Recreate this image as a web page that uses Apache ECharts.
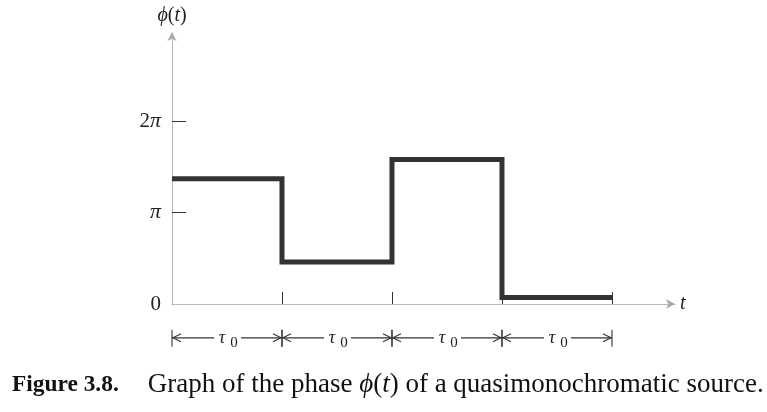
<!DOCTYPE html>
<html>
<head>
<meta charset="utf-8">
<script src="https://cdn.jsdelivr.net/npm/echarts@6/dist/echarts.min.js"></script>
<style>html,body{margin:0;padding:0;background:#fff}#c{width:767px;height:412px}</style>
</head>
<body>
<div id="c"></div>
<script>
// Phase level held during each interval, in units of pi
const phaseLevels = [1.37, 0.46, 1.58, 0.07];
// Interval boundaries, in units of tau_0
const intervalBounds = [0, 1, 2, 3, 4];
// Y tick values (units of pi) and their labels
const yTickValues = [0, 1, 2];
const yTickLabels = ['0', '{p|π}', '2{p|π}'];
// Interval annotation label (tau with subscript 0)
const intervalSymbol = 'τ';
const intervalSub = '0';

const SERIF = '"Liberation Serif", "DejaVu Serif", serif';
const stepData = intervalBounds.map((t, i) => [t, phaseLevels[Math.min(i, phaseLevels.length - 1)]]);
const segData = intervalBounds.slice(0, -1).map((t, i) => [t, intervalBounds[i + 1]]);
const DIM_Y = -0.37;
const yLabelFor = v => yTickLabels[yTickValues.indexOf(Math.round(v))] || '';

const chart = echarts.init(document.getElementById('c'), null, {renderer: 'canvas'});
chart.setOption({
  animation: false,
  backgroundColor: '#fff',
  title: {
    left: 12, top: 371, padding: 0,
    text: '{b|Figure 3.8.}{sp|}{g|Graph of the phase }{i|ϕ}{g|(}{i|t}{g|) of a quasimonochromatic source.}',
    textStyle: {
      fontWeight: 'normal',
      rich: {
        b: {fontFamily: SERIF, fontWeight: 'bold', fontSize: 23.4, color: '#111'},
        sp: {width: 29},
        g: {fontFamily: SERIF, fontWeight: 'normal', fontSize: 27, color: '#111'},
        i: {fontFamily: SERIF, fontWeight: 'normal', fontStyle: 'italic', fontSize: 27, color: '#111'}
      }
    }
  },
  grid: {left: 172, top: 32, right: 92, bottom: 108},
  xAxis: {
    type: 'value', min: 0, max: 4.573, interval: 1,
    name: 't', nameLocation: 'end', nameGap: 5,
    nameTextStyle: {fontFamily: SERIF, fontStyle: 'italic', fontSize: 20, color: '#222', padding: [12, 0, 0, 0]},
    axisLine: {show: true, symbol: ['none', 'arrow'], symbolSize: [7, 9], symbolOffset: [0, 0],
      lineStyle: {color: '#aaa', width: 1, type: 'dotted'}},
    axisTick: {show: true, inside: true, length: 12, customValues: [1, 2, 3, 4],
      lineStyle: {color: '#333', width: 1}},
    axisLabel: {show: false},
    splitLine: {show: false}
  },
  yAxis: {
    type: 'value', min: 0, max: 2.973, interval: 1,
    name: '{i|ϕ}{n|(}{i|t}{n|)}', nameLocation: 'end', nameGap: 6,
    nameTextStyle: {
      rich: {
        i: {fontFamily: SERIF, fontStyle: 'italic', fontSize: 20, color: '#222'},
        n: {fontFamily: SERIF, fontSize: 20, color: '#222'}
      }
    },
    axisLine: {show: true, symbol: ['none', 'arrow'], symbolSize: [7, 9],
      lineStyle: {color: '#aaa', width: 1, type: 'dotted'}},
    axisTick: {show: true, inside: true, length: 14, customValues: [1, 2],
      lineStyle: {color: '#333', width: 1}},
    axisLabel: {
      show: true, customValues: yTickValues, margin: 11,
      fontFamily: SERIF, fontSize: 21, color: '#222',
      formatter: yLabelFor,
      rich: {p: {fontFamily: SERIF, fontStyle: 'italic', fontSize: 22, color: '#222'}}
    },
    splitLine: {show: false}
  },
  series: [
    {
      type: 'line', data: stepData, step: 'end', symbol: 'none',
      lineStyle: {color: '#333', width: 5, cap: 'butt', join: 'miter'},
      z: 5
    },
    {
      type: 'custom', data: segData, clip: false, silent: true,
      renderItem: function (params, api) {
        const a = api.coord([api.value(0), DIM_Y]);
        const b = api.coord([api.value(1), DIM_Y]);
        const y = a[1];
        const cx = (a[0] + b[0]) / 2;
        const st = {stroke: '#333', lineWidth: 1.1, fill: null};
        return {
          type: 'group',
          children: [
            {type: 'line', shape: {x1: a[0], y1: y, x2: cx - 13, y2: y}, style: st},
            {type: 'line', shape: {x1: cx + 14, y1: y, x2: b[0], y2: y}, style: st},
            {type: 'polyline', shape: {points: [[a[0] + 9, y - 4], [a[0] + 1, y], [a[0] + 9, y + 4]]}, style: st},
            {type: 'polyline', shape: {points: [[b[0] - 9, y - 4], [b[0] - 1, y], [b[0] - 9, y + 4]]}, style: st},
            {type: 'line', shape: {x1: a[0], y1: y - 8, x2: a[0], y2: y + 9}, style: st},
            {type: 'line', shape: {x1: b[0], y1: y - 8, x2: b[0], y2: y + 9}, style: st},
            {type: 'text', x: cx - 5, y: y, style: {text: intervalSymbol, fontFamily: SERIF, fontStyle: 'italic', fontSize: 18, fill: '#222', align: 'center', verticalAlign: 'middle'}},
            {type: 'text', x: cx + 7, y: y + 5, style: {text: intervalSub, fontFamily: SERIF, fontSize: 15, fill: '#222', align: 'center', verticalAlign: 'middle'}}
          ]
        };
      },
      z: 4
    }
  ]
});
</script>
</body>
</html>
